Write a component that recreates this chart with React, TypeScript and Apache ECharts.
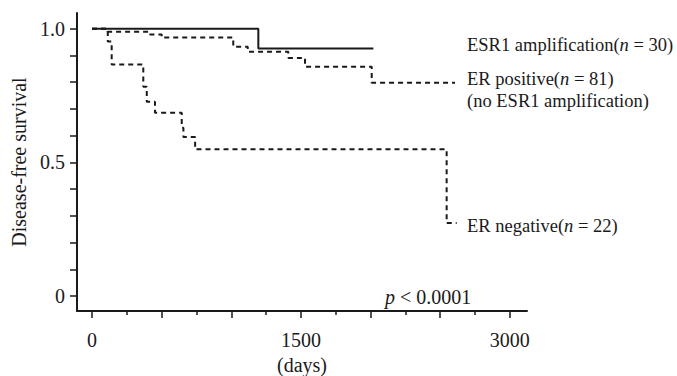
import React, { useEffect, useRef } from "react";
import * as echarts from "echarts";

// ---- data ----
const esrDays = [0, 1194, 2020];
const esrSurv = [1, 0.926, 0.926];
const posDays = [0, 113, 404, 500, 1014, 1118, 1409, 1529, 2008, 2606];
const posSurv = [1, 0.989, 0.979, 0.967, 0.933, 0.914, 0.891, 0.858, 0.798, 0.798];
const negDays = [0, 113, 141, 368, 393, 452, 644, 656, 740, 2546, 2618];
const negSurv = [1, 0.952, 0.866, 0.783, 0.727, 0.686, 0.63, 0.595, 0.549, 0.273, 0.273];

const xMajorTicks = [0, 500, 1000, 1500, 2000, 2500, 3000];
const xMinorTicks = [250, 750, 1250, 1750, 2250, 2750];
const xTickLabels = [0, 1500, 3000];
const yTicks = [0, 0.1, 0.2, 0.3, 0.4, 0.5, 0.6, 0.7, 0.8, 0.9, 1.0];
const yTickLabels = [0, 0.5, 1.0];

const FONT = '"Liberation Serif", "Times New Roman", serif';
const INK = "#1a1a1a";

const zip = (a: number[], b: number[]) => a.map((v, i) => [v, b[i]]);

export default function App() {
  const ref = useRef<HTMLDivElement>(null);
  useEffect(() => {
    if (!ref.current) return;
    const chart = echarts.init(ref.current, undefined, { renderer: "svg" });
    const rich = (size: number) => ({
      r: { fontFamily: FONT, fontSize: size, fill: INK, color: INK },
      i: { fontFamily: FONT, fontSize: size, fontStyle: "italic", fill: INK, color: INK },
    });
    const txt = (x: number, y: number, text: string, size = 18.5) => ({
      type: "text",
      x,
      y,
      style: {
        text,
        rich: rich(size),
        fill: INK,
        fontFamily: FONT,
        fontSize: size,
        verticalAlign: "middle",
        align: "left",
      },
    });
    const xCommon = {
      type: "value",
      min: -108,
      max: 3123,
      position: "bottom",
      splitLine: { show: false },
    };
    chart.setOption({
      animation: false,
      grid: {
        left: 77,
        right: 150,
        top: 13,
        bottom: 65,
        containLabel: false,
        outerBoundsMode: "none",
      },
      xAxis: [
        {
          ...xCommon,
          axisLine: { show: true, onZero: false, lineStyle: { color: INK, width: 2 } },
          axisTick: { show: true, length: 7, lineStyle: { color: INK, width: 1.5 }, customValues: xMajorTicks },
          axisLabel: {
            customValues: xTickLabels,
            formatter: (v: number) => String(v),
            fontFamily: FONT,
            fontSize: 20,
            color: INK,
            margin: 19,
          },
          name: "(days)",
          nameLocation: "middle",
          nameGap: 43,
          nameTextStyle: { fontFamily: FONT, fontSize: 20, color: INK, lineHeight: 20 },
        },
        {
          ...xCommon,
          axisLine: { show: false, onZero: false },
          axisTick: { show: true, length: 4, lineStyle: { color: INK, width: 1.5 }, customValues: xMinorTicks },
          axisLabel: { show: false },
        },
      ],
      yAxis: {
        type: "value",
        min: -0.056,
        max: 1.059,
        splitLine: { show: false },
        axisLine: { show: true, onZero: false, lineStyle: { color: INK, width: 2 } },
        axisTick: { show: true, length: 7, lineStyle: { color: INK, width: 1.5 }, customValues: yTicks },
        axisLabel: {
          customValues: yTickLabels,
          formatter: (v: number) => (v === 1 ? "1.0" : String(v)),
          fontFamily: FONT,
          fontSize: 20,
          color: INK,
          margin: 12,
        },
        name: "Disease-free survival",
        nameLocation: "middle",
        nameRotate: 90,
        nameGap: 44,
        nameTextStyle: { fontFamily: FONT, fontSize: 20, color: INK },
      },
      series: [
        {
          type: "line",
          step: "end",
          data: zip(negDays, negSurv),
          symbol: "none",
          lineStyle: { color: INK, width: 2, type: [5, 4] },
        },
        {
          type: "line",
          step: "end",
          data: zip(posDays, posSurv),
          symbol: "none",
          lineStyle: { color: INK, width: 2, type: [5, 4] },
        },
        {
          type: "line",
          step: "end",
          data: zip(esrDays, esrSurv),
          symbol: "none",
          lineStyle: { color: INK, width: 2, type: "solid" },
        },
      ],
      graphic: [
        txt(467, 45, "{r|ESR1 amplification(}{i|n}{r| = 30)}"),
        txt(467, 79, "{r|ER positive(}{i|n}{r| = 81)}"),
        txt(467, 101, "{r|(no ESR1 amplification)}"),
        txt(467, 226, "{r|ER negative(}{i|n}{r| = 22)}"),
        txt(385, 297, "{i|p}{r| < 0.0001}", 20),
      ],
    });
    return () => chart.dispose();
  }, []);
  return (
    <div
      ref={ref}
      style={{ position: "fixed", left: 0, top: 0, width: 677, height: 376, background: "#fff" }}
    />
  );
}
